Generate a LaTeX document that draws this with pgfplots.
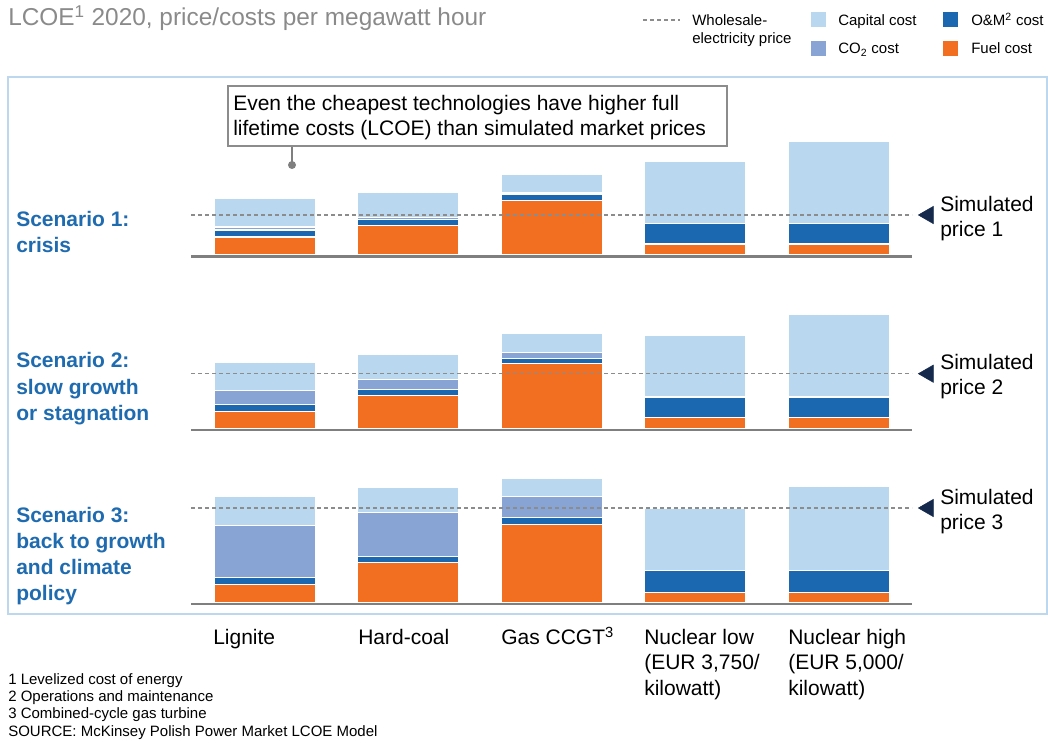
\documentclass[border=0pt]{standalone}
\usepackage{pgfplots}
\usepackage{pgfplotstable}
\pgfplotsset{compat=1.18}
\usepackage{fontspec}
\setmainfont{Liberation Sans}

\definecolor{capc}{HTML}{B9D8F0}
\definecolor{co2c}{HTML}{87A4D5}
\definecolor{omc}{HTML}{1B68B0}
\definecolor{fuelc}{HTML}{F26F21}
\definecolor{scen}{HTML}{1F6BB0}
\definecolor{navy}{HTML}{14294B}
\definecolor{framec}{HTML}{BDD7EE}
\definecolor{basec}{HTML}{7F7F7F}
\definecolor{pricec}{HTML}{8C8C8C}
\definecolor{titlec}{HTML}{8A8A8A}

% heights in pixels of the reference (fuel, O&M, CO2, capital)
\pgfplotstableread{
x fuel om co2 cap
0 18   7   3    29
1 29.5 6   1.8  25
2 54.5 6.5 1    18.3
3 11   20.7 0   62
4 11   20.7 0   82.3
}\scenA
\pgfplotstableread{
x fuel om co2 cap
0 17.5 7   13.3 28.2
1 33.5 5.7 10.3 24.5
2 65.3 5.3 5.7  18.7
3 11   20.7 0   61.3
4 11   20.7 0   82.3
}\scenB
\pgfplotstableread{
x fuel om co2 cap
0 18.3 7   52   28.7
1 40   6.5 43.5 25
2 78.3 6.7 21   18
3 10.5 21.5 0   62.3
4 10.5 21.5 0   84
}\scenC

\pgfplotsset{panel/.style={scale only axis, width=540.75pt, height=97.5pt,
  xmin=-0.515, xmax=4.51, ymin=0, ymax=130, hide axis, clip=false,
  anchor=south west}}

% #1 bottom of bars (px), #2 table, #3 simulated price
\newcommand{\panel}[3]{%
  \begin{axis}[panel, at={(143.25pt,{-0.75pt*#1})}, ybar stacked, bar width=0.704]
    \addplot[fill=fuelc, draw=white, line width=0.8pt] table[x=x,y=fuel]{#2};
    \addplot[fill=omc, draw=white, line width=0.8pt] table[x=x,y=om]{#2};
    \addplot[fill=co2c, draw=white, line width=0.8pt] table[x=x,y=co2]{#2};
    \addplot[fill=capc, draw=white, line width=0.8pt] table[x=x,y=cap]{#2};
  \end{axis}
  \begin{axis}[panel, at={(143.25pt,{-0.75pt*#1})}]
    \addplot[basec, line width=2pt, no markers] coordinates {(-0.515,-1.35) (4.51,-1.35)};
    \addplot[pricec, line width=1.1pt, dash pattern=on 3pt off 2.25pt, no markers]
      coordinates {(-0.515,#3) (4.51,#3)};
    \addplot[navy, only marks, mark=triangle*, mark size=7.5pt,
      mark options={rotate=90}] coordinates {(4.624,#3)};
  \end{axis}}

\begin{document}
\begin{tikzpicture}[x=0.75pt, y=-0.75pt,
  big/.style={font=\fontsize{15.75}{18}\selectfont, inner sep=0, anchor=base west},
  sml/.style={font=\fontsize{11.25}{13}\selectfont, inner sep=0, anchor=base west},
  scn/.style={big, font=\fontsize{15.75}{18}\selectfont\bfseries, text=scen}]
\path[use as bounding box] (0,0) rectangle (1048,742);

% title and legend
\node[inner sep=0, anchor=base west, text=titlec, font=\fontsize{18.3}{20}\selectfont]
  at (8,26) {LCOE\textsuperscript{1} 2020, price/costs per megawatt hour};
\draw[pricec, line width=0.9pt, dash pattern=on 3pt off 2.25pt] (643,20) -- (680,20);
\node[sml] at (692,25.5) {Wholesale-};
\node[sml] at (692,44) {electricity price};
\fill[capc] (811,12) rectangle (826,27);
\node[sml] at (838,25.5) {Capital cost};
\fill[co2c] (811,41) rectangle (826,56);
\node[sml] at (838,54) {CO\textsubscript{2} cost};
\fill[omc] (943,12) rectangle (958,27);
\node[sml] at (971,25.5) {O\&M\textsuperscript{2} cost};
\fill[fuelc] (943,41) rectangle (958,56);
\node[sml] at (971,54) {Fuel cost};

% frame
\draw[framec, line width=1.5pt] (8,77) rectangle (1046.5,614);

% panels
\panel{255}{\scenA}{40}
\panel{428.7}{\scenB}{55}
\panel{602.7}{\scenC}{94.7}

% callout
\draw[basec, line width=0.9pt] (292,146) -- (292,165);
\fill[basec] (292,165) circle (4);
\draw[pricec, line width=0.8pt, fill=white] (228,86) rectangle (727,146);
\node[big] at (233,110) {Even the cheapest technologies have higher full};
\node[big] at (233,135) {lifetime costs (LCOE) than simulated market prices};

% scenario labels
\node[scn] at (16,226) {Scenario 1:};
\node[scn] at (16,252) {crisis};
\node[scn] at (16,367) {Scenario 2:};
\node[scn] at (16,394) {slow growth};
\node[scn] at (16,420) {or stagnation};
\node[scn] at (16,522) {Scenario 3:};
\node[scn] at (16,548) {back to growth};
\node[scn] at (16,574) {and climate};
\node[scn] at (16,600) {policy};

% simulated price labels
\node[big] at (940,211) {Simulated};
\node[big] at (940,236.5) {price 1};
\node[big] at (940,369) {Simulated};
\node[big] at (940,394) {price 2};
\node[big] at (940,504) {Simulated};
\node[big] at (940,529) {price 3};

% categories
\node[big] at (213,644) {Lignite};
\node[big] at (358,644) {Hard-coal};
\node[big] at (501,644) {Gas CCGT\textsuperscript{3}};
\node[big] at (644,644) {Nuclear low};
\node[big] at (644,669.5) {(EUR 3,750/};
\node[big] at (644,695) {kilowatt)};
\node[big] at (788,644) {Nuclear high};
\node[big] at (788,669.5) {(EUR 5,000/};
\node[big] at (788,695) {kilowatt)};

% footnotes
\node[sml] at (8,684) {1 Levelized cost of energy};
\node[sml] at (8,701) {2 Operations and maintenance};
\node[sml] at (8,718.5) {3 Combined-cycle gas turbine};
\node[sml] at (8,736) {SOURCE: McKinsey Polish Power Market LCOE Model};
\end{tikzpicture}
\end{document}
